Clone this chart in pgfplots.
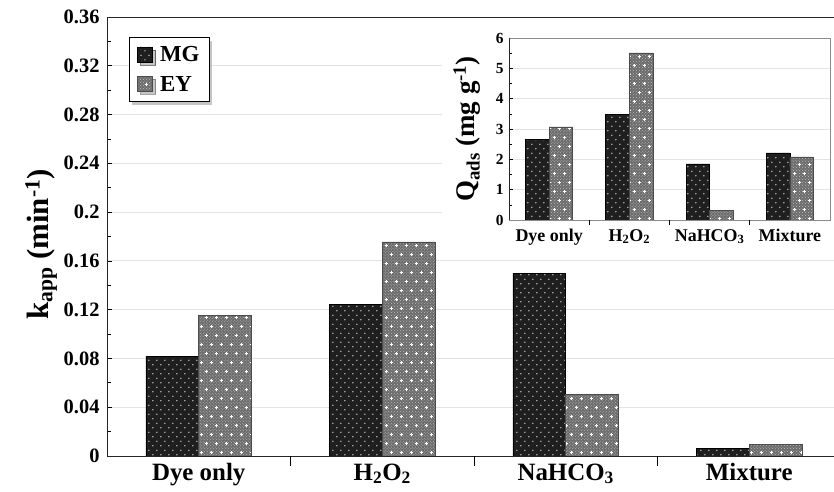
\documentclass[border=0pt]{standalone}
\usepackage{pgfplots}
\pgfplotsset{compat=1.18}
\usepackage{fontspec}
\setmainfont{Liberation Serif}
\usetikzlibrary{patterns,shadows}

\pgfdeclarepatternformonly{mgdots}{\pgfqpoint{0pt}{0pt}}{\pgfqpoint{8pt}{9pt}}{\pgfqpoint{8pt}{9pt}}{%
  \pgfpathcircle{\pgfqpoint{2pt}{2.25pt}}{0.75pt}%
  \pgfpathcircle{\pgfqpoint{6pt}{6.75pt}}{0.75pt}%
  \pgfusepath{fill}}
\pgfdeclarepatternformonly{eycross}{\pgfqpoint{0pt}{0pt}}{\pgfqpoint{10pt}{18pt}}{\pgfqpoint{10pt}{18pt}}{%
  \pgfpathrectangle{\pgfqpoint{1pt}{4.1pt}}{\pgfqpoint{3pt}{0.8pt}}%
  \pgfpathrectangle{\pgfqpoint{2.1pt}{3pt}}{\pgfqpoint{0.8pt}{3pt}}%
  \pgfpathrectangle{\pgfqpoint{6pt}{13.1pt}}{\pgfqpoint{3pt}{0.8pt}}%
  \pgfpathrectangle{\pgfqpoint{7.1pt}{12pt}}{\pgfqpoint{0.8pt}{3pt}}%
  \pgfusepath{fill}}

\tikzset{
  mgbar/.style={fill=black!88, draw=black, line width=0.6bp, postaction={pattern=mgdots, pattern color=white!80!black}},
  eybar/.style={fill=black!58, draw=black!70, line width=0.6bp, postaction={pattern=crosshatch dots, pattern color=white!75!black}, postaction={pattern=eycross, pattern color=white}},
}

\begin{document}
\begin{tikzpicture}[x=1bp,y=1bp]
\clip (-107,-36) rectangle (727,456);
\begin{axis}[
  at={(0bp,0bp)}, anchor=south west,
  scale only axis, width=734bp, height=439bp,
  xmin=-0.5, xmax=3.5, ymin=0, ymax=0.36,
  axis line style={black!85, line width=0.9bp},
  /pgf/number format/assume math mode=true,
  ytick={0,0.04,0.08,0.12,0.16,0.2,0.24,0.28,0.32,0.36},
  yticklabels={0,0.04,0.08,0.12,0.16,0.2,0.24,0.28,0.32,0.36},
  minor ytick={0.02,0.06,0.10,0.14,0.18,0.22,0.26,0.30,0.34},
  ymajorgrids, major grid style={gray!22, line width=0.9bp},
  tick align=inside, major tick length=5bp, minor tick length=4bp,
  ytick style={black, line width=0.7bp},
  xtick pos=bottom, ytick pos=left,
  xtick={0,1,2,3},
  xticklabels={Dye only, H\textsubscript{2}O\textsubscript{2}, NaHCO\textsubscript{3}, Mixture},
  xtick style={draw=none},
  extra x ticks={0.5,1.5,2.5}, extra x tick labels={},
  extra x tick style={xtick style={draw=black, line width=0.7bp}, tick align=outside, major tick length=10bp, grid=none},
  yticklabel style={font=\fontsize{20.5}{24}\selectfont\bfseries, xshift=-4bp},
  xticklabel style={font=\fontsize{25}{29}\selectfont\bfseries, yshift=-4bp},
  ylabel={k\textsubscript{app} (min\textsuperscript{-1})},
  ylabel style={font=\fontsize{31}{35}\selectfont\bfseries, xshift=-8bp},
  legend style={at={(axis description cs:0.030,0.954)}, anchor=north west,
    draw=black, fill=white, line width=0.8bp, drop shadow={shadow xshift=3bp, shadow yshift=-3bp, fill=black!45},
    font=\fontsize{23}{26}\selectfont\bfseries, inner xsep=8bp, inner ysep=7bp, row sep=9bp,
    /tikz/every odd column/.append style={column sep=5bp}},
  legend cell align=left,
  legend image code/.code={\draw[#1] (0bp,-7bp) rectangle (15bp,8bp);},
]
\addplot[ybar, bar width=0.288, bar shift=-0.144, mgbar] coordinates {(0,0.0816) (1,0.124) (2,0.150) (3,0.006)};
\addplot[ybar, bar width=0.288, bar shift=0.144, eybar] coordinates {(0,0.1155) (1,0.1755) (2,0.0506) (3,0.0095)};
\legend{MG, EY}
\end{axis}
\fill[white] (335,200) rectangle (730,436);
\begin{axis}[
  at={(402bp,236bp)}, anchor=south west,
  scale only axis, width=321bp, height=182bp,
  xmin=-0.5, xmax=3.5, ymin=0, ymax=6,
  axis background/.style={fill=white},
  axis line style={black!45, line width=0.8bp},
  /pgf/number format/assume math mode=true,
  ytick={0,1,2,3,4,5,6},
  minor ytick={0.5,1.5,2.5,3.5,4.5,5.5},
  ymajorgrids, major grid style={gray!22, line width=0.8bp},
  tick align=inside, major tick length=4bp, minor tick length=3bp,
  ytick style={black, line width=0.6bp},
  xtick pos=bottom, ytick pos=left,
  xtick={0,1,2,3},
  xticklabels={Dye only, H\textsubscript{2}O\textsubscript{2}, NaHCO\textsubscript{3}, Mixture},
  xtick style={draw=none},
  extra x ticks={0.5,1.5,2.5}, extra x tick labels={},
  extra x tick style={xtick style={draw=black, line width=0.6bp}, tick align=outside, major tick length=5bp, grid=none},
  yticklabel style={font=\fontsize{15.5}{18}\selectfont\bfseries, xshift=-2bp},
  xticklabel style={font=\fontsize{18}{21}\selectfont\bfseries, yshift=-6bp},
  ylabel={Q\textsubscript{ads} (mg g\textsuperscript{-1})},
  ylabel style={font=\fontsize{27}{31}\selectfont\bfseries, yshift=8bp},
]
\addplot[ybar, bar width=0.294, bar shift=-0.147, mgbar] coordinates {(0,2.67) (1,3.47) (2,1.85) (3,2.21)};
\addplot[ybar, bar width=0.294, bar shift=0.147, eybar] coordinates {(0,3.07) (1,5.51) (2,0.31) (3,2.08)};
\draw[black!85, line width=0.9bp] (rel axis cs:0,1) -- (rel axis cs:0,0) -- (rel axis cs:1,0);
\end{axis}
\end{tikzpicture}
\end{document}
